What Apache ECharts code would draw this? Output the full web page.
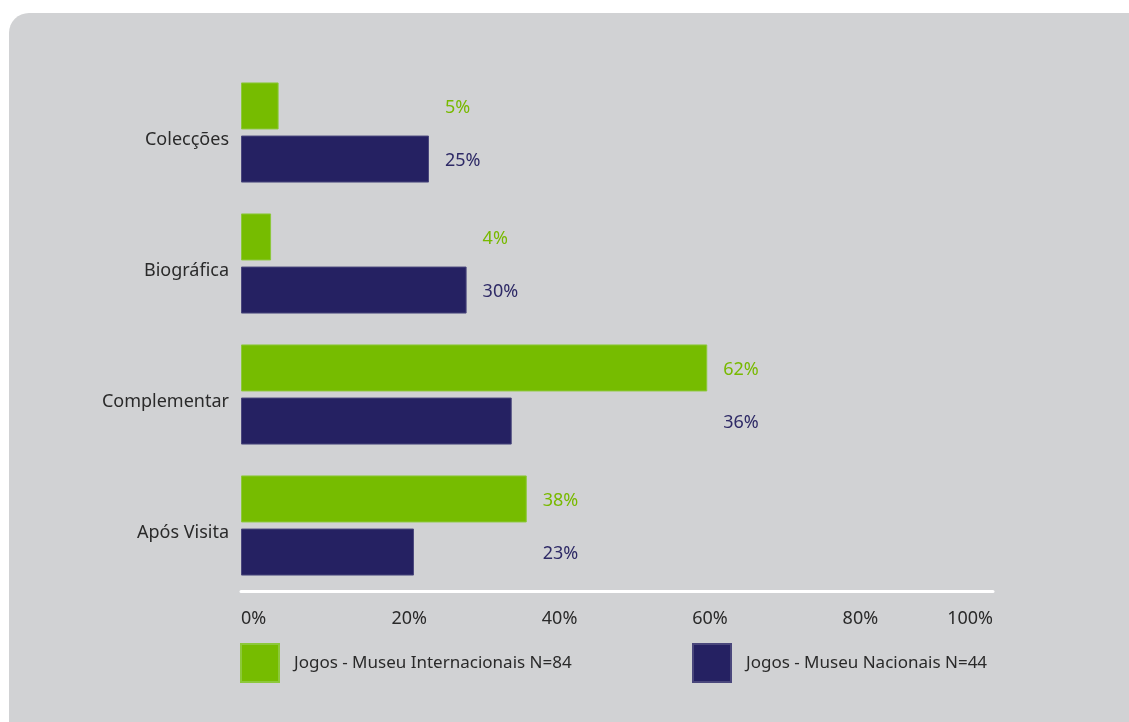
<!DOCTYPE html>
<html>
<head>
<meta charset="utf-8">
<script src="https://cdn.jsdelivr.net/npm/echarts@6/dist/echarts.min.js"></script>
<style>
  html, body { margin: 0; padding: 0; background: #ffffff; }
  #chart { width: 1129px; height: 722px; }
</style>
</head>
<body>
<div id="chart"></div>
<script>
// Categories, top to bottom
var categories = ['Colecções', 'Biográfica', 'Complementar', 'Após Visita'];
// Share of games per type (%)
var internacionais = [5, 4, 62, 38];
var nacionais = [25, 30, 36, 23];
var seriesNames = ['Jogos - Museu Internacionais N=84', 'Jogos - Museu Nacionais N=44'];
var tickValues = [0, 20, 40, 60, 80, 100];

var GREEN = '#76bc00';
var NAVY = '#252162';
var TEXT = '#2a2a2a';
var FONT = 'Noto Sans';

var gridLeft = 241, gridWidth = 752;
var pxPerUnit = gridWidth / 100;

// value labels sit just past the longer bar of each category
var catMax = categories.map(function (c, i) { return Math.max(internacionais[i], nacionais[i]); });
function labelFor(values, color) {
  return values.map(function (v, i) {
    return {
      value: v,
      label: {
        show: true,
        position: 'right',
        distance: 0,
        offset: [(catMax[i] - v) * pxPerUnit + 16, 2],
        formatter: '{c}%',
        color: color,
        fontFamily: FONT,
        fontSize: 18
      }
    };
  });
}

var chart = echarts.init(document.getElementById('chart'), null, { renderer: 'canvas' });
chart.setOption({
  backgroundColor: '#ffffff',
  animation: false,
  graphic: [{
    type: 'rect',
    z: -10,
    shape: { x: 9, y: 13, width: 1140, height: 730, r: [20, 0, 0, 0] },
    style: { fill: '#d1d2d4' }
  }],
  grid: { left: gridLeft, top: 67, width: gridWidth, height: 524 },
  legend: [{
    data: [seriesNames[0]],
    left: 240, top: 643, padding: 0,
    itemWidth: 38, itemHeight: 38, icon: 'rect',
    textStyle: { color: TEXT, fontFamily: FONT, fontSize: 17, padding: [0, 0, 0, 10] }
  }, {
    data: [seriesNames[1]],
    left: 692, top: 643, padding: 0,
    itemWidth: 38, itemHeight: 38, icon: 'rect',
    textStyle: { color: TEXT, fontFamily: FONT, fontSize: 17, padding: [0, 0, 0, 10] }
  }],
  xAxis: {
    type: 'value',
    min: 0, max: 100, interval: 20,
    axisLine: { show: true, lineStyle: { color: '#ffffff', width: 3 } },
    axisTick: { show: false },
    splitLine: { show: false },
    axisLabel: {
      margin: 19,
      align: 'left',
      alignMaxLabel: 'right',
      color: TEXT, fontFamily: FONT, fontSize: 18,
      formatter: function (v) { return tickValues.indexOf(v) >= 0 ? v + '%' : ''; }
    }
  },
  yAxis: {
    type: 'category',
    data: categories,
    inverse: true,
    axisLine: { show: false },
    axisTick: { show: false },
    axisLabel: {
      margin: 12,
      color: TEXT, fontFamily: FONT, fontSize: 18,
      verticalAlign: 'top',
      lineHeight: 14
    }
  },
  series: [{
    name: seriesNames[0],
    type: 'bar',
    barWidth: 47,
    barGap: '13%',
    itemStyle: { color: GREEN, borderColor: '#8cc83a', borderWidth: 1 },
    data: labelFor(internacionais, '#78b900')
  }, {
    name: seriesNames[1],
    type: 'bar',
    barWidth: 47,
    barGap: '13%',
    itemStyle: { color: NAVY, borderColor: '#4a477c', borderWidth: 1 },
    data: labelFor(nacionais, '#2e2a66')
  }]
});
</script>
</body>
</html>
